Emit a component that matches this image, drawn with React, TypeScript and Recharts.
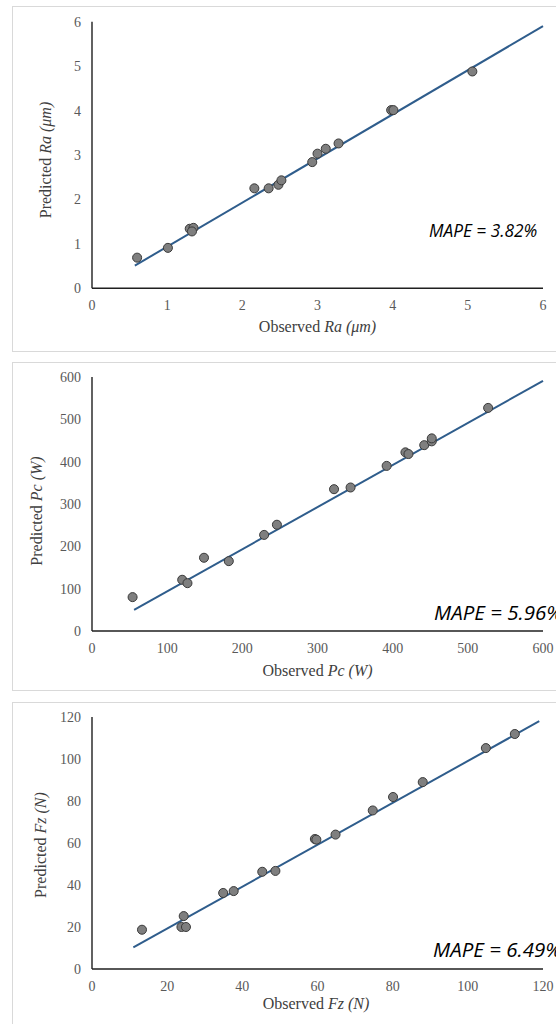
import React from "react";
import { ScatterChart, Scatter, XAxis, YAxis, ReferenceLine } from "recharts";

// Panel 1: surface roughness Ra (µm)
const raObserved = [0.6, 1.01, 1.3, 1.35, 1.33, 2.16, 2.35, 2.48, 2.52, 2.93, 3.0, 3.11, 3.28, 3.98, 4.01, 5.06];
const raPredicted = [0.69, 0.91, 1.34, 1.36, 1.28, 2.25, 2.25, 2.33, 2.43, 2.84, 3.03, 3.14, 3.26, 4.01, 4.01, 4.88];
const raTrend = [{ x: 0.57, y: 0.51 }, { x: 6, y: 5.9 }];
const raTicks = [0, 1, 2, 3, 4, 5, 6];

// Panel 2: cutting power Pc (W)
const pcObserved = [54, 120, 127, 149, 182, 229, 246, 322, 344, 392, 417, 421, 442, 452, 452, 527];
const pcPredicted = [80, 121, 113, 173, 165, 227, 251, 335, 339, 390, 422, 418, 439, 448, 455, 527];
const pcTrend = [{ x: 56, y: 50 }, { x: 600, y: 591 }];
const pcTicks = [0, 100, 200, 300, 400, 500, 600];

// Panel 3: cutting force Fz (N)
const fzObserved = [13.3, 24.4, 23.8, 25.0, 34.9, 37.7, 45.3, 48.8, 59.3, 59.7, 64.8, 74.7, 80.1, 88.0, 104.8, 112.5];
const fzPredicted = [18.7, 25.2, 20.0, 20.0, 36.2, 37.1, 46.3, 46.7, 61.9, 61.6, 64.0, 75.5, 81.9, 89.0, 105.2, 111.9];
const fzTrend = [{ x: 11, y: 10.3 }, { x: 119, y: 118 }];
const fzTicks = [0, 20, 40, 60, 80, 100, 120];

const mapeLabels = ["MAPE = 3.82%", "MAPE = 5.96%", "MAPE = 6.49%"];

const toPoints = (xs: number[], ys: number[]) => xs.map((x, i) => ({ x, y: ys[i] }));

const SERIF = "'Liberation Serif', 'Times New Roman', serif";
const SANS = "'Open Sans', 'Noto Sans', sans-serif";
const TICK_STYLE = { fill: "#595959", fontSize: 14, fontFamily: SERIF };
const AXIS_STYLE = { stroke: "#1f1f1f", strokeWidth: 1.4 };
const TREND_COLOR = "#2F5D8C";

type PanelProps = {
  top: number;
  height: number;
  marginTop: number;
  marginBottom: number;
  data: { x: number; y: number }[];
  trend: { x: number; y: number }[];
  ticks: number[];
};

function Panel({ top, height, marginTop, marginBottom, data, trend, ticks }: PanelProps) {
  const max = ticks[ticks.length - 1];
  return (
    <div style={{ position: "absolute", left: 0, top, width: 556, height }}>
      <ScatterChart
        width={556}
        height={height}
        margin={{ top: marginTop, right: 13, bottom: marginBottom, left: 32 }}
      >
        <XAxis
          type="number"
          dataKey="x"
          domain={[0, max]}
          ticks={ticks}
          tickLine={false}
          axisLine={AXIS_STYLE}
          tick={TICK_STYLE}
          tickMargin={6}
          height={40}
          interval={0}
        />
        <YAxis
          type="number"
          dataKey="y"
          domain={[0, max]}
          ticks={ticks}
          tickLine={false}
          axisLine={AXIS_STYLE}
          tick={TICK_STYLE}
          tickMargin={5}
          width={60}
          interval={0}
        />
        <ReferenceLine
          segment={trend}
          stroke={TREND_COLOR}
          strokeWidth={2}
          ifOverflow="visible"
        />
        <Scatter
          data={data}
          fill="#7F7F7F"
          stroke="#3A3A3A"
          strokeWidth={1}
          isAnimationActive={false}
        />
      </ScatterChart>
    </div>
  );
}

function YTitle({ cx, cy, name, unit }: { cx: number; cy: number; name: string; unit: string }) {
  return (
    <text
      transform={`translate(${cx},${cy}) rotate(-90)`}
      x={0}
      y={5}
      textAnchor="middle"
      fontFamily={SERIF}
      fontSize={16}
      fill="#404040"
    >
      Predicted <tspan fontStyle="italic">{name} ({unit})</tspan>
    </text>
  );
}

function XTitle({ cx, cy, name, unit }: { cx: number; cy: number; name: string; unit: string }) {
  return (
    <text x={cx} y={cy + 5} textAnchor="middle" fontFamily={SERIF} fontSize={16} fill="#404040">
      Observed <tspan fontStyle="italic">{name} ({unit})</tspan>
    </text>
  );
}

export default function App() {
  const boxStyle: React.CSSProperties = {
    position: "absolute",
    left: 12,
    width: 600,
    border: "1px solid #D9D9D9",
    boxSizing: "border-box",
  };
  return (
    <div
      style={{
        position: "absolute",
        left: 0,
        top: 0,
        width: 556,
        height: 1024,
        overflow: "hidden",
        background: "#fff",
      }}
    >
      <div style={{ ...boxStyle, top: 6, height: 346 }} />
      <div style={{ ...boxStyle, top: 362, height: 329 }} />
      <div style={{ ...boxStyle, top: 702, height: 400 }} />

      <Panel top={0} height={352} marginTop={21.7} marginBottom={23.7} data={toPoints(raObserved, raPredicted)} trend={raTrend} ticks={raTicks} />
      <Panel top={356} height={340} marginTop={21} marginBottom={25} data={toPoints(pcObserved, pcPredicted)} trend={pcTrend} ticks={pcTicks} />
      <Panel top={700} height={324} marginTop={17} marginBottom={15} data={toPoints(fzObserved, fzPredicted)} trend={fzTrend} ticks={fzTicks} />

      <svg
        width={556}
        height={1024}
        style={{ position: "absolute", left: 0, top: 0, pointerEvents: "none" }}
      >
        <YTitle cx={46} cy={160} name="Ra" unit="μm" />
        <XTitle cx={317.5} cy={327} name="Ra" unit="μm" />
        <text x={429} y={236.5} fontFamily={SANS} fontStyle="italic" fontSize={17.3} fill="#000">
          {mapeLabels[0]}
        </text>

        <YTitle cx={37} cy={511} name="Pc" unit="W" />
        <XTitle cx={317.5} cy={671} name="Pc" unit="W" />
        <text x={434} y={620} fontFamily={SANS} fontStyle="italic" fontSize={20.5} fill="#000">
          {mapeLabels[1]}
        </text>

        <YTitle cx={41} cy={845} name="Fz" unit="N" />
        <XTitle cx={316} cy={1004} name="Fz" unit="N" />
        <text x={433} y={957} fontFamily={SANS} fontStyle="italic" fontSize={20.5} fill="#000">
          {mapeLabels[2]}
        </text>
      </svg>
    </div>
  );
}
